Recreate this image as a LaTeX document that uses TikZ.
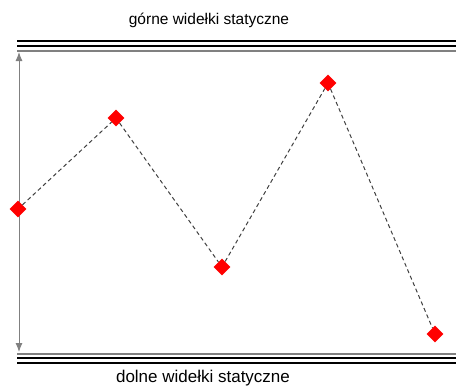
\documentclass[tikz,border=0pt]{standalone}
\usepackage{fontspec}
\setmainfont{Liberation Sans}
\usetikzlibrary{shapes.geometric,arrows.meta}

\begin{document}
\begin{tikzpicture}[x=1pt,y=-1pt,
        pkt/.style={draw=none,fill=red,shape=diamond,minimum size=17pt,inner sep=0},
        widelki/.style={line width=2pt},
        laczenie/.style={line width=1pt,black!75,dash pattern=on 4pt off 3pt}]
        \useasboundingbox (0,0) rectangle (456,388);
        % gorne widelki
        \draw[widelki] (17,41) -- (456,41);
        \draw[widelki] (17,46) -- (456,46);
        \draw[widelki,gray] (17,50.5) -- (456,50.5);
        % dolne widelki
        \draw[widelki,gray] (17,353.5) -- (456,353.5);
        \draw[widelki] (17,358) -- (456,358);
        \draw[widelki] (17,362.5) -- (456,362.5);
        \node (gorne) at (209,20) {\fontsize{15.5}{18}\selectfont górne widełki statyczne};
        \node (dolne) at (203,378) {\fontsize{17}{20}\selectfont dolne widełki statyczne};
        % zakres
        \coordinate (gora) at (19,52);
        \coordinate (dol) at (19,352);
        \draw[gray,line width=1pt,{Latex[length=9pt,width=7pt]}-{Latex[length=9pt,width=7pt]}] (dol) -- (gora);
        % punkty
        \node[pkt] (p1) at (18,209) {};
        \node[pkt] (p2) at (116,118) {};
        \node[pkt] (p3) at (222,267) {};
        \node[pkt] (p4) at (328,83) {};
        \node[pkt] (p5) at (435,334) {};
        \draw[laczenie] (p1) -- (p2) -- (p3) -- (p4) -- (p5);
    \end{tikzpicture}
\end{document}
